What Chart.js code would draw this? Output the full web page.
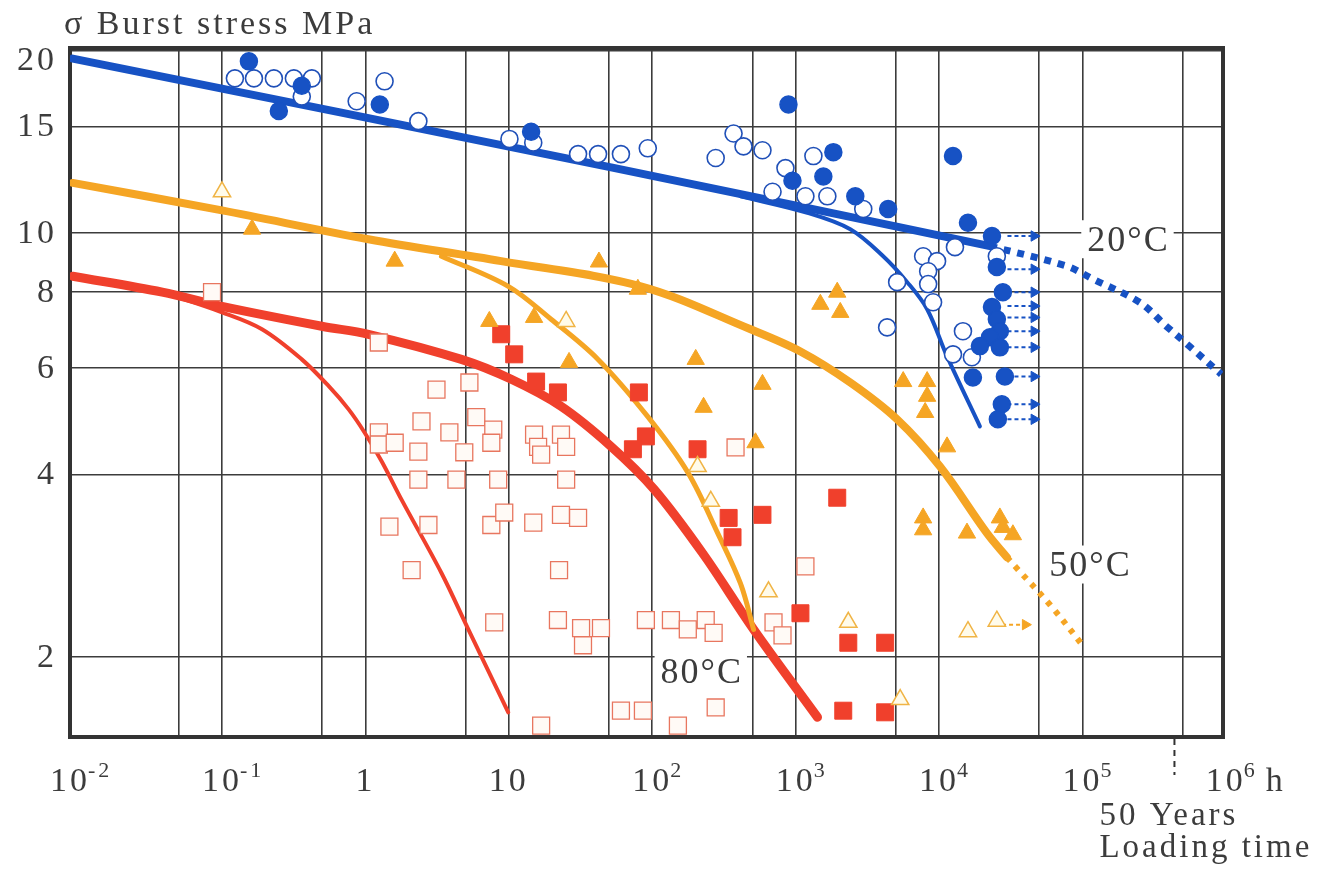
<!DOCTYPE html>
<html>
<head>
<meta charset="utf-8">
<script src="https://cdn.jsdelivr.net/npm/chart.js@4.4.1/dist/chart.umd.min.js"></script>
<style>
  html, body { margin: 0; padding: 0; background: #fff; }
</style>
</head>
<body>
<canvas id="burstChart" width="1335" height="869"></canvas>
<script>
// loading time in h, burst stress in MPa
const yTicks = [2, 4, 6, 8, 10, 15, 20];
const xGrid = [0.05, 0.1, 0.5, 1, 5, 10, 50, 100, 500, 1e3, 5e3, 1e4, 5e4, 1e5, 5e5];
const xLabelExp = [-2, -1, 0, 1, 2, 3, 4, 5, 6];
const fiftyYears = 50 * 8760;

// regression curves
const curve20 = [[0.0091, 19.4], [50.7, 12.85], [22650, 9.52]];
const knee20 = [[413, 11.5], [1208, 10.8], [2404, 10.15], [4080, 9.16], [6000, 8.30], [8260, 7.49], [11370, 6.26],
  [19270, 4.80]];
const extra20 = [[22650, 9.52], [77620, 8.82], [117800, 8.40], [250000, 7.69], [384600, 7.02], [556000, 6.51], [929000, 5.85]];

const curve50 = [[0.0091, 12.1], [0.1, 10.9], [1.05, 9.77], [8.85, 8.99], [83.3, 8.17], [485, 6.94], [1080, 6.38],
  [2404, 5.67], [5103, 4.93], [10160, 4.12], [21570, 3.20], [29720, 2.92]];
const knee50 = [[3.39, 9.16], [9.91, 8.17], [19.7, 7.21], [41.9, 6.19], [93.1, 4.98], [177, 4.03], [286, 3.20],
  [413, 2.64], [509, 2.22]];
const extra50 = [[29720, 2.92], [34840, 2.80], [59160, 2.44], [103500, 2.07]];

const curve80 = [[0.0091, 8.49], [0.0383, 7.99], [0.1, 7.57], [0.496, 7.02], [1.05, 6.81], [4.67, 6.19], [10.4, 5.74],
  [23.1, 5.18], [51.5, 4.45], [103, 3.78], [228, 2.95], [509, 2.22], [1420, 1.59]];
const knee80 = [[0.0383, 7.99], [0.1, 7.40], [0.19, 6.94], [0.36, 6.19], [0.555, 5.59], [0.764, 5.12], [0.986, 4.69],
  [1.30, 4.20], [1.79, 3.63], [3.39, 2.75], [5.22, 2.22], [9.91, 1.62]];

// test results
const open20 = [[0.123, 18.0], [0.167, 18.0], [0.23, 18.0], [0.317, 18.0], [0.423, 18.0], [0.36, 16.8], [0.869, 16.5],
  [1.36, 17.8], [2.34, 15.3], [10.1, 14.3], [14.8, 14.1], [30.4, 13.5], [41.9, 13.5], [60.5, 13.5], [93.1, 13.8],
  [277, 13.3], [369, 14.6], [433, 13.9], [587, 13.7], [849, 12.8], [690, 11.7], [1170, 11.5], [1330, 13.4],
  [1664, 11.5], [2961, 10.96], [12910, 9.48], [7745, 9.16], [9685, 8.99], [8395, 8.65], [8395, 8.24], [5103, 8.30],
  [9085, 7.69], [4345, 6.99], [14680, 6.89], [12510, 6.31], [16940, 6.24], [25290, 9.16]];
const filled20 = [[0.154, 19.2], [0.249, 15.9], [0.36, 17.5], [1.26, 16.3], [14.3, 14.7], [891, 16.3], [1832, 13.6],
  [1560, 12.4], [950, 12.2], [2606, 11.5], [4416, 10.96], [12510, 13.4], [15910, 10.4], [23390, 9.89], [25290, 8.79],
  [27860, 7.99], [23390, 7.55], [25290, 7.21], [26550, 6.89], [22650, 6.73], [19270, 6.51], [26550, 6.48],
  [17220, 5.78], [28780, 5.80], [27400, 5.22], [25700, 4.93]];
const runout20 = [9.89, 8.72, 7.99, 7.58, 7.26, 6.89, 6.48, 5.80, 5.22, 4.93];

const open50 = [[0.1, 11.7], [25.1, 7.15], [207, 4.12], [256, 3.61], [647, 2.56], [2329, 2.28], [5358, 1.70],
  [15910, 2.20], [25290, 2.29]];
const filled50 = [[0.162, 10.15], [1.6, 8.99], [7.31, 7.15], [15.0, 7.26], [26.3, 6.12], [42.5, 8.96], [79.4, 8.08],
  [201, 6.19], [228, 5.16], [587, 5.63], [525, 4.51], [1950, 7.99], [1487, 7.63], [2047, 7.40], [5623, 5.69],
  [8260, 5.69], [8260, 5.38], [8000, 5.06], [11370, 4.44], [7745, 3.39], [7745, 3.24], [15660, 3.20], [26550, 3.39],
  [27860, 3.27], [32730, 3.18]];
const runout50 = [2.26];

const open80 = [[0.0852, 7.99], [1.24, 6.60], [1.24, 4.69], [1.24, 4.48], [1.6, 4.51], [2.34, 4.36], [2.46, 4.89],
  [3.13, 5.52], [3.85, 4.69], [2.34, 3.92], [1.47, 3.28], [2.75, 3.30], [2.1, 2.78], [5.31, 5.67], [5.93, 4.97],
  [7.79, 4.74], [7.55, 4.51], [4.89, 4.35], [15.0, 4.65], [23.1, 4.65], [16.0, 4.44], [16.8, 4.31], [25.1, 4.44],
  [4.31, 3.92], [8.43, 3.92], [25.1, 3.92], [7.55, 3.30], [9.29, 3.46], [14.8, 3.33], [23.1, 3.43], [30.4, 3.39],
  [381, 4.43], [22.4, 2.78], [1170, 2.82], [7.91, 2.28], [22.0, 2.30], [31.9, 2.23], [43.9, 2.23], [32.9, 2.09],
  [90.3, 2.30], [135, 2.30], [236, 2.30], [177, 2.22], [268, 2.19], [701, 2.28], [810, 2.17], [16.8, 1.54],
  [60.5, 1.63], [86.1, 1.63], [277, 1.65], [151, 1.54]];
const filled80 = [[8.85, 6.81], [10.9, 6.31], [15.5, 5.69], [22.0, 5.46], [80.7, 5.46], [90.3, 4.62], [73.3, 4.40],
  [207, 4.40], [341, 3.39], [587, 3.43], [363, 3.15], [1950, 3.66], [1080, 2.36], [2329, 2.11], [4209, 2.11],
  [2148, 1.63], [4209, 1.62]];

const tempLabels = [['20°C', 206000, 9.77], ['50°C', 112000, 2.84], ['80°C', 218, 1.89]];

const BLUE = '#1752c4', ORANGE = '#f5a524', RED = '#f0402c';
const TEXT = '#3c3c3c';
const SERIF = '"Liberation Serif", "Times New Roman", serif';

const pts = a => a.map(([x, y]) => ({ x, y }));

function curve(data, color, width, dash) {
  return {
    data: pts(data), showLine: true, borderColor: color, borderWidth: width,
    borderDash: dash || [], borderCapStyle: dash ? 'butt' : 'round',
    pointRadius: 0, tension: 0.35, order: 2
  };
}
function marks(data, style, fill, stroke, r, bw) {
  return {
    data: pts(data), showLine: false, pointStyle: style, pointRadius: r,
    backgroundColor: fill, borderColor: stroke, borderWidth: bw, order: 1
  };
}
// runout arrows: dashed shaft plus arrow head
function runShafts(ys, from, to, color) {
  const d = [];
  ys.forEach(y => d.push({ x: from, y }, { x: to, y }, { x: to, y: null }));
  return { data: d, showLine: true, spanGaps: false, borderColor: color, borderWidth: 2,
    borderDash: [4, 3], pointRadius: 0, order: 1 };
}
function runHeads(ys, at, color) {
  return { data: ys.map(y => ({ x: at, y })), pointStyle: 'triangle', rotation: 90, pointRadius: 6,
    backgroundColor: color, borderColor: color, borderWidth: 1, order: 0 };
}

function spaced(ctx, px) { if ('letterSpacing' in ctx) ctx.letterSpacing = px + 'px'; }

const decor = {
  id: 'decor',
  beforeDatasetsDraw(chart) {
    const { ctx, chartArea: a, scales: { x, y } } = chart;
    ctx.save();
    ctx.strokeStyle = '#333';
    ctx.lineWidth = 4;
    ctx.strokeRect(a.left, a.top, a.right - a.left, a.bottom - a.top);

    ctx.font = `36px ${SERIF}`;
    spaced(ctx, 2);
    ctx.textAlign = 'center';
    ctx.textBaseline = 'middle';
    tempLabels.forEach(([t, vx, vy]) => {
      const px = x.getPixelForValue(vx), py = y.getPixelForValue(vy);
      const w = ctx.measureText(t).width;
      ctx.fillStyle = '#fff';
      ctx.fillRect(px - w / 2 - 5, py - 19, w + 10, 38);
      ctx.fillStyle = TEXT;
      ctx.fillText(t, px + 1, py + 2);
    });
    ctx.restore();
  },
  afterDraw(chart) {
    const { ctx, chartArea: a, scales: { x, y } } = chart;
    ctx.save();
    ctx.fillStyle = TEXT;
    spaced(ctx, 3);

    // y title
    ctx.font = `34px ${SERIF}`;
    ctx.textAlign = 'left';
    ctx.textBaseline = 'middle';
    ctx.fillText('σ Burst stress MPa', 64, 25);

    // y tick labels
    ctx.font = `34px ${SERIF}`;
    ctx.textAlign = 'right';
    yTicks.forEach(v => {
      const py = Math.max(y.getPixelForValue(v), a.top + 12);
      ctx.fillText(String(v), 57, py + 1);
    });

    // x tick labels 10^n
    ctx.textAlign = 'left';
    ctx.textBaseline = 'alphabetic';
    xLabelExp.forEach(n => {
      const px = n === xLabelExp[0] ? a.left : x.getPixelForValue(Math.pow(10, n));
      const base = n === 0 ? '1' : '10';
      ctx.font = `34px ${SERIF}`;
      const wb = ctx.measureText(base).width;
      ctx.fillText(base, px - wb / 2, 791);
      let tail = px + wb / 2 - 2;
      if (n !== 0 && n !== 1) {
        ctx.font = `22px ${SERIF}`;
        const e = String(n);
        ctx.fillText(e, tail, 777);
        tail += ctx.measureText(e).width;
      }
      if (n === xLabelExp[xLabelExp.length - 1]) {
        ctx.font = `34px ${SERIF}`;
        ctx.fillText('h', tail + 8, 791);
      }
    });

    // 50 years mark
    const px50 = x.getPixelForValue(fiftyYears);
    ctx.strokeStyle = '#333';
    ctx.lineWidth = 2;
    ctx.setLineDash([6, 5]);
    ctx.beginPath();
    ctx.moveTo(px50, a.bottom + 2);
    ctx.lineTo(px50, a.bottom + 38);
    ctx.stroke();
    ctx.setLineDash([]);
    ctx.font = `33px ${SERIF}`;
    ctx.fillText('50 Years', px50 - 75, 825);
    ctx.fillText('Loading time', px50 - 75, 857);
    ctx.restore();
  }
};

new Chart(document.getElementById('burstChart'), {
  type: 'scatter',
  data: {
    datasets: [
      runHeads(runout20, 46000, BLUE),
      runHeads(runout50, 40000, ORANGE),
      marks(filled20, 'circle', BLUE, BLUE, 8.5, 1.5),
      marks(open20, 'circle', '#fff', '#2050b8', 8.5, 1.6),
      marks(filled50, 'triangle', ORANGE, ORANGE, 10, 1),
      marks(open50, 'triangle', '#fffbea', '#f0b445', 10, 1.5),
      marks(filled80, 'rect', RED, RED, 12, 1),
      marks(open80, 'rect', '#fffaf6', '#e8765f', 12, 1.3),
      runShafts(runout20, 30000, 44000, BLUE),
      runShafts(runout50, 27500, 37000, ORANGE),
      curve(curve20, BLUE, 8),
      curve(knee20, BLUE, 4),
      curve(extra20, BLUE, 7, [7, 7]),
      curve(curve50, ORANGE, 8),
      curve(knee50, ORANGE, 5),
      curve(extra50, ORANGE, 6, [5, 7]),
      curve(curve80, RED, 9),
      curve(knee80, RED, 4)
    ]
  },
  options: {
    responsive: false,
    animation: false,
    events: [],
    layout: { padding: { top: 48, right: 112, left: 0, bottom: 0 } },
    plugins: { legend: { display: false }, tooltip: { enabled: false } },
    scales: {
      x: {
        type: 'logarithmic',
        min: Math.pow(10, -2.06),
        max: Math.pow(10, 5.98),
        afterBuildTicks: s => { s.ticks = xGrid.map(v => ({ value: v })); },
        afterFit: s => { s.height = 132; },
        ticks: { display: false },
        grid: { color: '#3c3c3c', lineWidth: 1.6, drawTicks: false },
        border: { display: false }
      },
      y: {
        type: 'logarithmic',
        min: 1.475,
        max: 20.2,
        afterBuildTicks: s => { s.ticks = yTicks.map(v => ({ value: v })); },
        afterFit: s => { s.width = 70; },
        ticks: { display: false },
        grid: { color: '#3c3c3c', lineWidth: 1.6, drawTicks: false },
        border: { display: false }
      }
    }
  },
  plugins: [decor]
});
</script>
</body>
</html>
